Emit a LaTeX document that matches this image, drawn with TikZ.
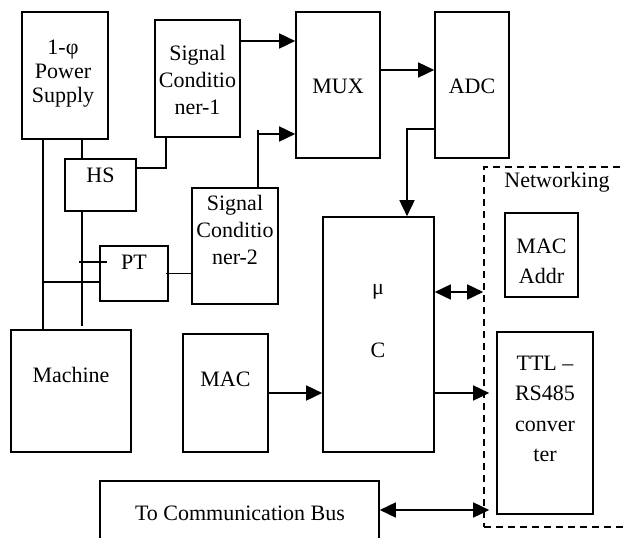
\documentclass[tikz,border=0pt]{standalone}
\usepackage{fontspec}
\setmainfont{Liberation Serif}
\usetikzlibrary{arrows.meta}
\begin{document}
\begin{tikzpicture}[x=1pt,y=-1pt,
 box/.style={draw, line width=1.6pt, inner sep=0pt},
 netbox/.style={draw, line width=1.6pt, dashed, dash pattern=on 7pt off 5pt, inner sep=0pt},
 txt/.style={font=\fontsize{22}{27}\selectfont, align=center, inner sep=0pt},
 wire/.style={line width=1.6pt},
 arr/.style={line width=1.6pt, -{Triangle[length=16pt,width=15pt]}},
 darr/.style={line width=1.6pt, {Triangle[length=16pt,width=15pt]}-{Triangle[length=16pt,width=15pt]}}]
\useasboundingbox (0,0) rectangle (624,538);
% boxes
\node[box, minimum width=86pt, minimum height=127pt] (ps) at (65,75.5) {};
\node[box, minimum width=85pt, minimum height=117pt] (sc1) at (197.5,78.5) {};
\node[box, minimum width=84pt, minimum height=146pt] (mux) at (338,85) {};
\node[box, minimum width=74pt, minimum height=146pt] (adc) at (472,85) {};
\node[box, minimum width=71pt, minimum height=52pt] (hs) at (100.5,185) {};
\node[box, minimum width=68pt, minimum height=55pt] (pt) at (134,273.5) {};
\node[box, minimum width=86pt, minimum height=116pt] (sc2) at (235,246) {};
\node[box, minimum width=120pt, minimum height=122pt] (mach) at (71,391) {};
\node[box, minimum width=85pt, minimum height=118pt] (mac) at (225.5,393) {};
\node[box, minimum width=111pt, minimum height=235pt] (uc) at (378.5,334.5) {};
\node[box, minimum width=73pt, minimum height=84pt] (macaddr) at (541.5,255) {};
\node[box, minimum width=96pt, minimum height=182pt] (ttl) at (545,423) {};
\node[box, minimum width=279pt, minimum height=79pt] (bus) at (239.5,520.5) {};
\node[netbox, minimum width=200pt, minimum height=360pt] (net) at (584,347) {};
% texts
\node[txt, font=\fontsize{22}{24}\selectfont] (pst) at (63,74) {1-φ\\Power\\Supply};
\node[txt] (sc1t) at (197.5,80) {Signal\\Conditio\\ner-1};
\node[txt] (sc2t) at (235,230) {Signal\\Conditio\\ner-2};
\node[txt] (muxt) at (338,86) {MUX};
\node[txt] (adct) at (472,86) {ADC};
\node[txt] (hst) at (100.5,175) {HS};
\node[txt] (ptt) at (134,262) {PT};
\node[txt] (macht) at (71,375) {Machine};
\node[txt] (mact) at (225.5,379) {MAC};
\node[txt] (mut) at (378,292) {μ};
\node[txt] (ct) at (378,350) {C};
\node[txt] (nett) at (557,182) {Networking};
\node[txt, font=\fontsize{22}{30}\selectfont] (macaddrt) at (541.5,261) {MAC\\Addr};
\node[txt, font=\fontsize{22}{30.5}\selectfont] (ttlt) at (545,409) {TTL –\\RS485\\conver\\ter};
\node[txt] (bust) at (240,513) {To Communication Bus};
% wires
\draw[wire] (ps.south -| 43,0) -- (mach.north -| 43,0);
\draw[wire] (ps.south -| 82,0) -- (hs.north -| 82,0);
\draw[wire] (hs.south -| 82,0) -- (82,326);
\draw[wire] ([xshift=-20pt]pt.west |- 0,262) -- ([xshift=8pt]pt.west |- 0,262);
\draw[wire] (43,282) -- (pt.west |- 0,282);
\draw[wire] ([xshift=-3pt]pt.east) -- (sc2.west |- pt.east);
\draw[wire] (hs.east |- 0,168) -- (166,168) -- (sc1.south -| 166,0);
\draw[arr] (sc1.east |- 0,41) -- (mux.west |- 0,41);
\draw[wire] (sc2.north -| 258,0) -- (258,130);
\draw[arr] (258,134) -- (mux.west |- 0,134);
\draw[arr] (mux.east |- 0,70) -- (adc.west |- 0,70);
\draw[arr] (adc.west |- 0,129) -- (407,129) -- (uc.north -| 407,0);
\draw[darr] (uc.east |- 0,292) -- (net.west |- 0,292);
\draw[arr] (mac.east) -- (uc.west |- mac.east);
\draw[arr] (uc.east |- 0,393) -- ([xshift=6pt]net.west |- 0,393);
\draw[darr] (bus.east |- 0,510) -- ([xshift=6pt]net.west |- 0,510);
\end{tikzpicture}
\end{document}
